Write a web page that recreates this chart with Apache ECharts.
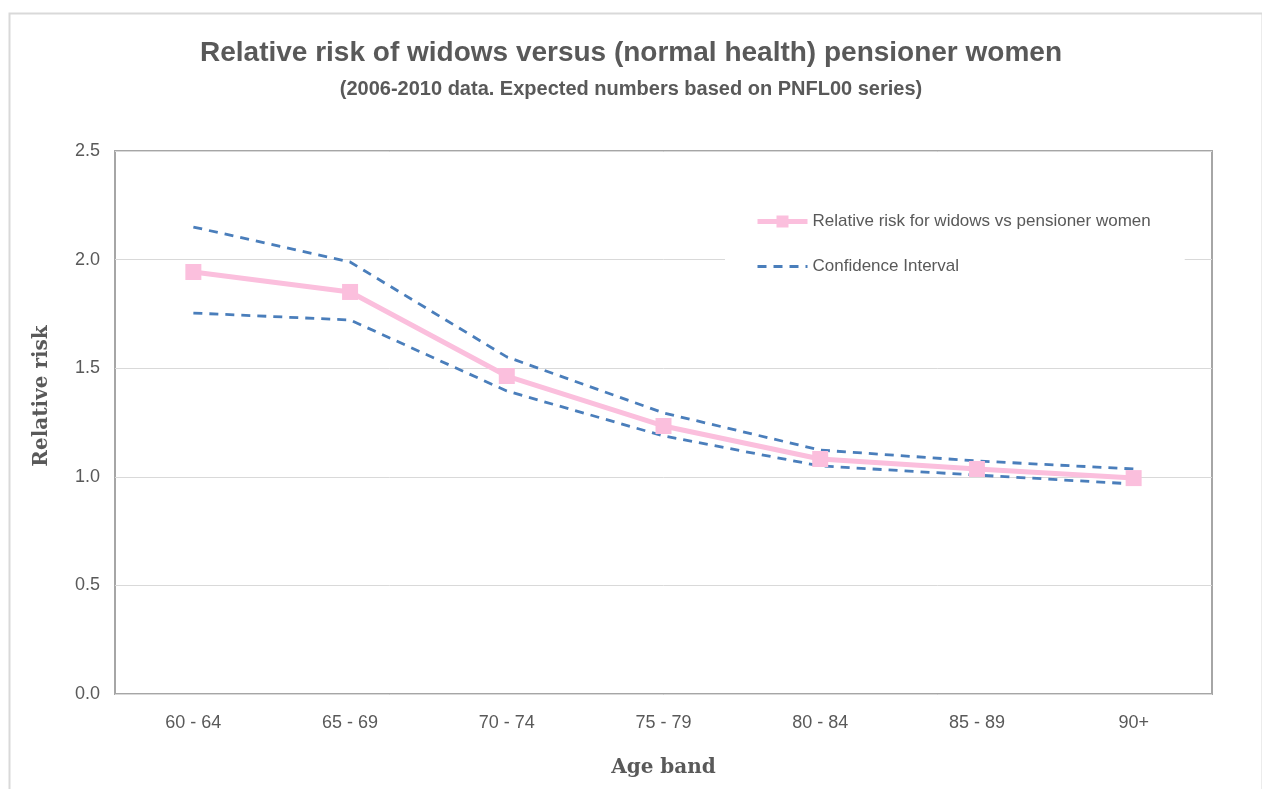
<!DOCTYPE html>
<html>
<head>
<meta charset="utf-8">
<script src="https://cdn.jsdelivr.net/npm/echarts@6/dist/echarts.min.js"></script>
<style>
  html, body { margin: 0; padding: 0; background: #fff; }
  #chart { width: 1262px; height: 789px; }
</style>
</head>
<body>
<div id="chart"></div>
<script>
const ageBands = ["60 - 64", "65 - 69", "70 - 74", "75 - 79", "80 - 84", "85 - 89", "90+"];
const relativeRisk = [1.943, 1.851, 1.464, 1.234, 1.082, 1.036, 0.994];
const upperCI = [2.150, 1.989, 1.552, 1.294, 1.123, 1.073, 1.036];
const lowerCI = [1.754, 1.722, 1.395, 1.188, 1.050, 1.008, 0.967];

const chart = echarts.init(document.getElementById("chart"));
const textColor = "#595959";
const pink = "#fbbfdd";
const blue = "#4a7ebb";
const ciStyle = { color: blue, width: 2.8, type: [9, 7] };

const option = {
  backgroundColor: "#fff",
  animation: false,
  title: {
    text: "Relative risk of widows versus (normal health) pensioner women",
    subtext: "(2006-2010 data. Expected numbers based on PNFL00 series)",
    left: "center",
    top: 34,
    itemGap: 12,
    textStyle: { fontFamily: "Arial, Liberation Sans", fontSize: 28, fontWeight: "bold", color: textColor },
    subtextStyle: { fontFamily: "Arial, Liberation Sans", fontSize: 20, fontWeight: "bold", color: textColor },
  },
  graphic: [
    {
      type: "rect",
      left: 7,
      top: 11,
      shape: { width: 1253, height: 800 },
      style: { fill: "none", stroke: "#d9d9d9", lineWidth: 2 },
      silent: true,
    },
    {
      type: "text",
      x: 42,
      y: 396,
      rotation: Math.PI / 2,
      style: {
        text: "Relative risk",
        fontFamily: "DejaVu Serif, Liberation Serif",
        fontSize: 20,
        fontWeight: "bold",
        fill: textColor,
        align: "center",
        verticalAlign: "middle",
      },
      silent: true,
    },
  ],
  legend: {
    orient: "vertical",
    left: 725,
    top: 196,
    padding: [17, 34, 17, 30],
    backgroundColor: "#fff",
    itemWidth: 50,
    itemHeight: 15,
    itemGap: 28,
    data: [
      {
        name: "Relative risk for widows vs pensioner women",
        lineStyle: { width: 5 },
      },
      {
        name: "Confidence Interval",
        lineStyle: { width: 3 },
      },
    ],
    textStyle: { fontFamily: "Arial, Liberation Sans", fontSize: 17, color: textColor },
    z: 10,
  },
  grid: {
    show: true,
    left: 115,
    top: 151,
    right: 50,
    bottom: 95,
    borderColor: "#a6a6a6",
    borderWidth: 2,
  },
  xAxis: {
    type: "category",
    data: ageBands,
    boundaryGap: true,
    name: "Age band",
    nameLocation: "middle",
    nameGap: 64,
    nameTextStyle: { fontFamily: "DejaVu Serif, Liberation Serif", fontSize: 20, fontWeight: "bold", color: textColor },
    axisLine: { show: false },
    axisTick: { show: false },
    axisLabel: { fontFamily: "Arial, Liberation Sans", fontSize: 18, color: textColor, margin: 20 },
  },
  yAxis: {
    type: "value",
    min: 0,
    max: 2.5,
    interval: 0.5,
    axisLine: { show: false },
    axisTick: { show: false },
    axisLabel: {
      fontFamily: "Arial, Liberation Sans",
      fontSize: 18,
      color: textColor,
      margin: 15,
      formatter: (v) => v.toFixed(1),
    },
    splitLine: { lineStyle: { color: "#d9d9d9", width: 1 } },
  },
  series: [
    {
      name: "Confidence Interval",
      type: "line",
      data: upperCI,
      symbol: "none",
      lineStyle: ciStyle,
      itemStyle: { color: "rgba(0,0,0,0)" },
      z: 2,
    },
    {
      name: "Confidence Interval",
      type: "line",
      data: lowerCI,
      symbol: "none",
      lineStyle: ciStyle,
      itemStyle: { color: "rgba(0,0,0,0)" },
      z: 2,
    },
    {
      name: "Relative risk for widows vs pensioner women",
      type: "line",
      data: relativeRisk,
      symbol: "rect",
      symbolSize: 16,
      lineStyle: { color: pink, width: 5 },
      itemStyle: { color: pink },
      z: 3,
    },
  ],
};
chart.setOption(option);
</script>
</body>
</html>
